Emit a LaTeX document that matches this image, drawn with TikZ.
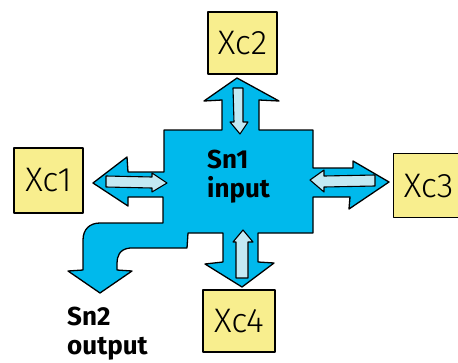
\documentclass[tikz,border=0pt]{standalone}
\usepackage{fontspec}
\setmainfont{Fira Sans}
\newfontfamily\handfont{Fira Sans Light}
\definecolor{flowblue}{HTML}{00B9EC}
\definecolor{boxyellow}{HTML}{F8EE8E}
\definecolor{paleblue}{HTML}{C3E9F3}
\tikzset{
  sketch/.style={draw=black, line width=1.3pt, line join=round, line cap=round},
  xbox/.style={sketch, fill=boxyellow, minimum width=69pt, minimum height=63pt, inner sep=0pt,
               font=\handfont\fontsize{34}{34}\selectfont},
  flowtext/.style={font=\bfseries\fontsize{26}{29}\selectfont, align=left, inner sep=0pt, anchor=north west},
  innerarrow/.style={sketch, line width=1.1pt, fill=paleblue}
}
\begin{document}
\begin{tikzpicture}[x=1pt,y=-1pt]
\useasboundingbox (0,0) rectangle (458,362);
% boxes
\node[xbox, minimum width=69pt, minimum height=65pt] (xc1) at (48.5,180.5) {Xc1};
\node[xbox, minimum width=69pt, minimum height=62pt] (xc2) at (242.5,43) {Xc2};
\node[xbox, minimum width=70pt, minimum height=64pt, anchor=north west] (xc3) at (393,153) {Xc3};
\node[xbox, minimum width=72pt, minimum height=62pt] (xc4) at (239,321) {Xc4};
% main blue shape
\path[sketch, fill=flowblue]
 (164,130) -- (222,130) -- (222,100) -- (204,101) -- (237,78) -- (279,101) -- (259,100) -- (259,130)
 -- (313,130) -- (313,168) -- (353,168) -- (353,161) -- (389,182) -- (349,209) -- (350,197) -- (313,197)
 -- (313,233) -- (258,233) -- (258,262) -- (274,263) -- (242,287) -- (205,264) -- (223,262) -- (223,233)
 -- (188,233) -- (187,248) -- (130,248) .. controls (119,249) and (117,257) .. (117,263) -- (117,270)
 -- (132,271) -- (100,293) -- (68,271) -- (83,270) -- (83,240) .. controls (83,229) and (90,223) .. (100,223)
 -- (163,223) -- (163,197) -- (128,197) -- (128,206) -- (93,183) -- (127,157) -- (128,172) -- (164,172) -- cycle;
% inner arrows
\path[innerarrow] (233,88) -- (243,88) -- (243,122) -- (248,122) -- (240,134) -- (230,122) -- (234,122) -- cycle;
\path[innerarrow] (236,278) -- (248,278) -- (248,242) -- (253,242) -- (243,230) -- (233,242) -- (236,242) -- cycle;
\path[innerarrow] (106,176) -- (152,177) -- (152,173) -- (167,183) -- (152,192) -- (152,188) -- (106,187) -- cycle;
\path[innerarrow] (375,175) -- (324,176) -- (324,170) -- (310,180) -- (324,192) -- (324,187) -- (375,186) -- cycle;
% texts
\node[flowtext] (sn1) at (207,150) {Sn1\\input};
\node[flowtext] (sn2) at (67,307) {Sn2\\output};
\end{tikzpicture}
\end{document}
